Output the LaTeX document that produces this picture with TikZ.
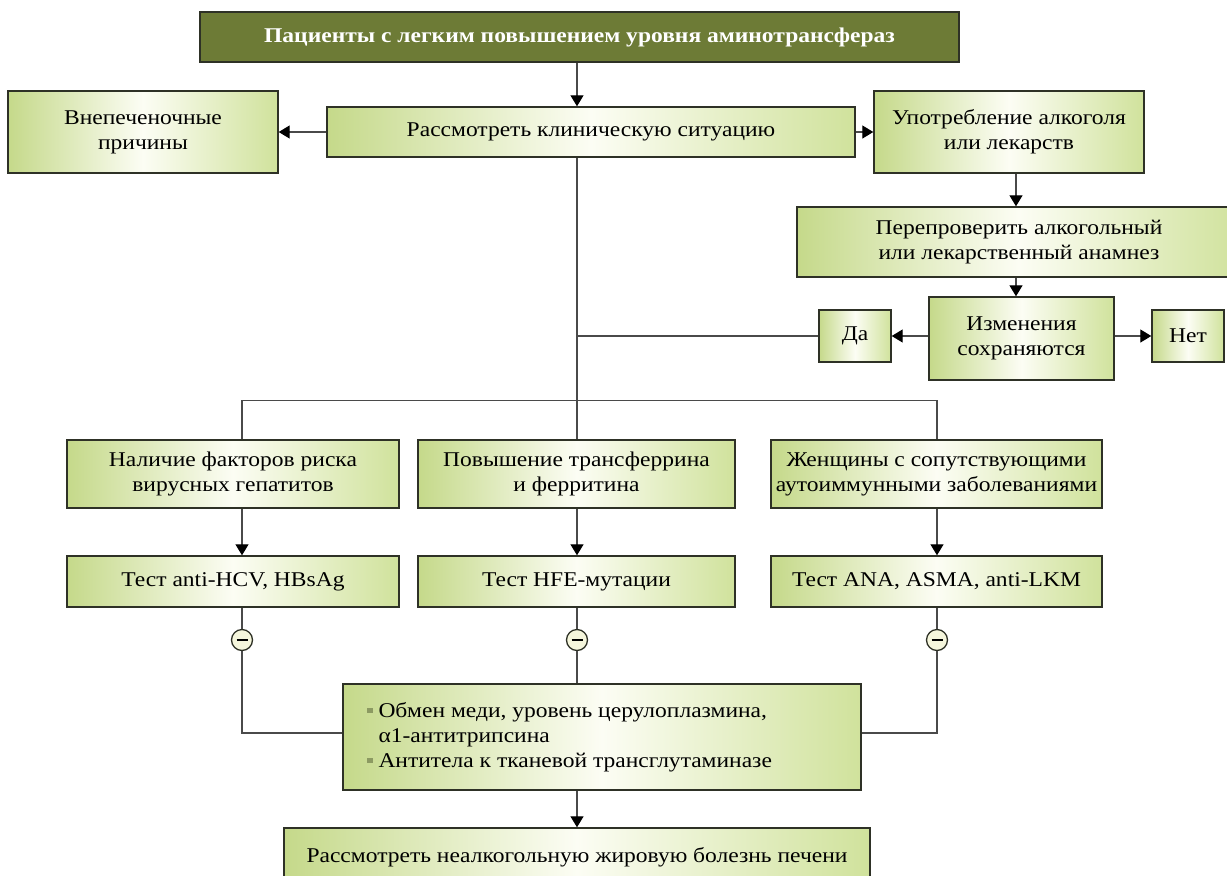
\documentclass[tikz,border=0pt]{standalone}
\usepackage{fontspec}
\setmainfont{Liberation Serif}[FakeStretch=1.12]
\usetikzlibrary{arrows.meta,calc}
\definecolor{topolive}{HTML}{6D7B36}
\definecolor{gL}{HTML}{C5D98A}
\definecolor{gM}{HTML}{FCFDF4}
\definecolor{gR}{HTML}{D0E29C}
\definecolor{boxline}{HTML}{2E3126}
\definecolor{linec}{HTML}{4A4A4A}
\definecolor{cream}{HTML}{F5F6DC}
\definecolor{bulc}{HTML}{8C9A62}
\newcommand\sqb{\textcolor{bulc}{\rule[0.2em]{5.5pt}{5.5pt}}\hspace{6pt}}
\tikzset{
  gbox/.style={draw=boxline, line width=1.4pt, left color=gL, right color=gR, middle color=gM,
    align=center, inner sep=0pt, font=\fontsize{21}{25}\selectfont, text=black},
  topbox/.style={draw=boxline, line width=1.4pt, fill=topolive, align=center, inner sep=0pt,
    font=\fontsize{21}{25}\selectfont\bfseries, text=white},
  conn/.style={draw=linec, line width=1.3pt},
  arr/.style={conn, -{Triangle[width=13pt,length=11pt,color=black]}},
  minus/.style={circle, draw=boxline, line width=1.3pt, fill=cream, minimum size=21pt, inner sep=0pt,
    path picture={\draw[black, line width=2.8pt] ([xshift=-5.5pt]path picture bounding box.center) -- ([xshift=5.5pt]path picture bounding box.center);}},
}
\begin{document}
\begin{tikzpicture}[x=1pt,y=-1pt]
\useasboundingbox (0,0) rectangle (1227,876);
\coordinate (sx) at (577,0);
\coordinate (bx) at (242,0);
\coordinate (cx) at (937,0);
\coordinate (ax) at (1016,0);
\coordinate (jy) at (0,400.5);
\coordinate (ly) at (0,733);
\node[topbox, minimum width=759pt, minimum height=50pt] (top) at (579.5,37) {Пациенты с легким повышением уровня аминотрансфераз};
\node[gbox, minimum width=528pt, minimum height=50pt] (clin) at (591,132) {Рассмотреть клиническую ситуацию};
\node[gbox, minimum width=270pt, minimum height=82pt] (extra) at (143,132) {Внепеченочные\\причины};
\node[gbox, minimum width=270pt, minimum height=82pt] (alco) at (1009,132) {Употребление алкоголя\\или лекарств};
\node[gbox, minimum width=444pt, minimum height=70pt] (recheck) at (1019,242) {Перепроверить алкогольный\\или лекарственный анамнез};
\node[gbox, minimum width=185pt, minimum height=83pt] (persist) at (1021.5,338.5) {Изменения\\сохраняются};
\node[gbox, minimum width=72pt, minimum height=52pt] (yes) at (855,336) {Да};
\node[gbox, minimum width=72pt, minimum height=52pt] (no) at (1188,336) {Нет};
\node[gbox, minimum width=332pt, minimum height=68pt] (r1) at (233,474) {Наличие факторов риска\\вирусных гепатитов};
\node[gbox, minimum width=317pt, minimum height=68pt] (r2) at (576.5,474) {Повышение трансферрина\\и ферритина};
\node[gbox, minimum width=331pt, minimum height=68pt] (r3) at (936.5,474) {Женщины с сопутствующими\\аутоиммунными заболеваниями};
\node[gbox, minimum width=332pt, minimum height=51pt] (t1) at (233,581.5) {Тест anti-HCV, HBsAg};
\node[gbox, minimum width=317pt, minimum height=51pt] (t2) at (576.5,581.5) {Тест HFE-мутации};
\node[gbox, minimum width=331pt, minimum height=51pt] (t3) at (936.5,581.5) {Тест ANA, ASMA, anti-LKM};
\node[minus] (c1) at (242,640) {};
\node[minus] (c2) at (577,640) {};
\node[minus] (c3) at (937,640) {};
\node[gbox, minimum width=518pt, minimum height=106pt, text width=470pt, align=flush left] (bul) at (602,737)
  {\sqb Обмен меди, уровень церулоплазмина,\\\hspace*{11.5pt}α1-антитрипсина\\\sqb Антитела к тканевой трансглутаминазе};
\node[gbox, minimum width=586pt, minimum height=58pt] (final) at (577,857) {Рассмотреть неалкогольную жировую болезнь печени};
% connectors
\draw[arr] (top.south -| sx) -- (clin.north -| sx);
\draw[arr] (clin.west) -- (extra.east);
\draw[arr] (clin.east) -- (alco.west);
\draw[conn] (clin.south -| sx) -- (r2.north -| sx);
\draw[arr] (alco.south -| ax) -- (recheck.north -| ax);
\draw[arr] (recheck.south -| ax) -- (persist.north -| ax);
\draw[arr] (persist.west |- yes) -- (yes.east);
\draw[arr] (persist.east |- no) -- (no.west);
\draw[conn] (yes.west) -- (yes.west -| sx);
\draw[conn, line width=1.1pt] (r1.north -| bx) |- (jy -| sx) -| (r3.north -| cx);
\draw[arr] (r1.south -| bx) -- (t1.north -| bx);
\draw[arr] (r2.south -| sx) -- (t2.north -| sx);
\draw[arr] (r3.south -| cx) -- (t3.north -| cx);
\draw[conn] (t1.south -| bx) -- (c1.north);
\draw[conn] (t2.south -| sx) -- (c2.north);
\draw[conn] (t3.south -| cx) -- (c3.north);
\draw[conn] (c1.south) |- (bul.west |- ly);
\draw[conn] (c3.south) |- (bul.east |- ly);
\draw[conn] (c2.south) -- (bul.north -| c2);
\draw[arr] (bul.south -| sx) -- (final.north -| sx);
\end{tikzpicture}
\end{document}
